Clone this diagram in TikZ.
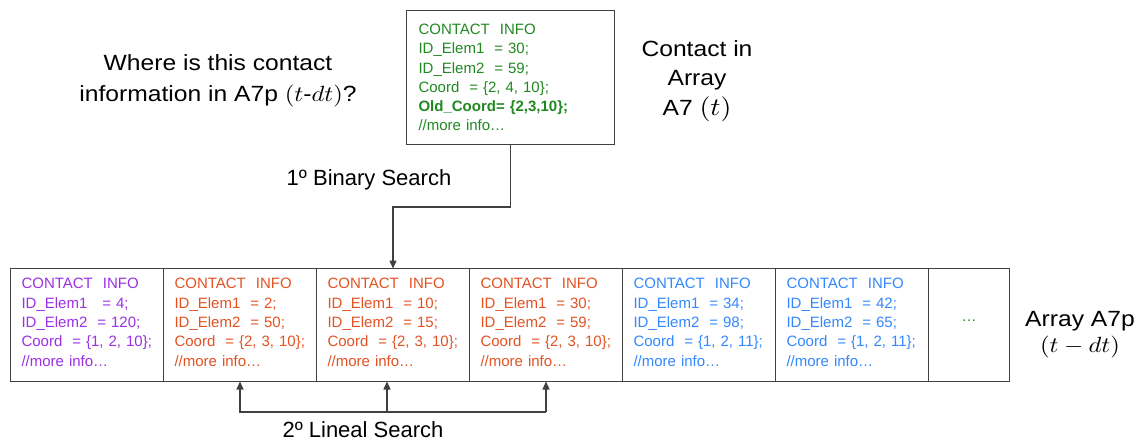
\documentclass[tikz,border=0pt]{standalone}
\usepackage{fontspec}
\setmainfont{Liberation Sans}
\usepackage{amsmath}
\usepackage{graphicx}
\usetikzlibrary{arrows.meta,positioning,calc}

% let the Computer Modern math fonts scale to any size
\DeclareFontShape{OML}{cmm}{m}{it}{<->cmmi10}{}
\DeclareFontShape{OT1}{cmr}{m}{n}{<->cmr10}{}
\DeclareFontShape{OMS}{cmsy}{m}{n}{<->cmsy10}{}

\definecolor{inkgray}{RGB}{64,64,64}
\definecolor{infopurple}{RGB}{155,48,230}
\definecolor{infoorange}{RGB}{228,82,34}
\definecolor{infoblue}{RGB}{51,136,255}
\definecolor{infogreen}{RGB}{34,136,34}

\newcommand{\cellfont}{\fontsize{15}{19.3}\selectfont}
\newcommand{\wide}[1]{\scalebox{1.12}[1]{#1}}
\newcommand{\lastdepth}{\rule[-5.4pt]{0pt}{0pt}}
\newcommand{\bigmath}[1]{{\fontsize{25}{25}\selectfont$#1$}}

\begin{document}
\begin{tikzpicture}[x=1pt,y=-1pt,
  ink/.style={draw=inkgray, line width=1.5pt},
  cellbox/.style={ink, rectangle, outer sep=0pt, inner xsep=11pt, inner ysep=0pt,
    minimum height=113pt, minimum width=153pt, text width=131pt,
    align=left, font=\cellfont},
  endbox/.style={cellbox, minimum width=81pt, text width=59pt, align=center},
  infobox/.style={ink, rectangle, outer sep=0pt, inner xsep=12pt, inner ysep=0pt,
    minimum width=208pt, minimum height=134pt, text width=184pt,
    align=left, font=\cellfont, text=infogreen},
  biglabel/.style={inner sep=0pt, text=black},
  arrowline/.style={draw=inkgray, line width=1.3pt, -{Triangle[length=8pt,width=7pt]}}
]
\fill[white] (0,0) rectangle (1141,442);
\useasboundingbox (0,0) rectangle (1141,442);

% contact being searched for
\node[infobox] (top) at (510.5,77.5) {%
  CONTACT\ \ INFO\\
  ID\_Elem1\ \ = 30;\\
  ID\_Elem2\ \ = 59;\\
  Coord\ \ = \{2, 4, 10\};\\
  \textbf{Old\_Coord= \{2,3,10\};}\\
  //more info…};

% array of contacts at the previous step
\node[cellbox, text=infopurple] (c1) at (87,325) {%
  CONTACT\ \ INFO\\
  ID\_Elem1\ \ \ = 4;\\
  ID\_Elem2 \ = 120;\\
  Coord \ = \{1, 2, 10\};\\
  //more info…\lastdepth};
\node[cellbox, text=infoorange] (c2) at (240,325) {%
  CONTACT\ \ INFO\\
  ID\_Elem1 \ = 2;\\
  ID\_Elem2 \ = 50;\\
  Coord \ = \{2, 3, 10\};\\
  //more info…\lastdepth};
\node[cellbox, text=infoorange] (c3) at (393,325) {%
  CONTACT\ \ INFO\\
  ID\_Elem1 \ = 10;\\
  ID\_Elem2 \ = 15;\\
  Coord \ = \{2, 3, 10\};\\
  //more info…\lastdepth};
\node[cellbox, text=infoorange] (c4) at (546,325) {%
  CONTACT\ \ INFO\\
  ID\_Elem1 \ = 30;\\
  ID\_Elem2 \ = 59;\\
  Coord \ = \{2, 3, 10\};\\
  //more info…\lastdepth};
\node[cellbox, text=infoblue] (c5) at (699,325) {%
  CONTACT\ \ INFO\\
  ID\_Elem1 \ = 34;\\
  ID\_Elem2 \ = 98;\\
  Coord \ = \{1, 2, 11\};\\
  //more info…\lastdepth};
\node[cellbox, text=infoblue] (c6) at (852,325) {%
  CONTACT\ \ INFO\\
  ID\_Elem1 \ = 42;\\
  ID\_Elem2 \ = 65;\\
  Coord \ = \{1, 2, 11\};\\
  //more info…\lastdepth};
\node[endbox, text=infogreen] (c7) at (969,325) {…\rule[-9pt]{0pt}{0pt}};

% labels
\node[biglabel, align=center, anchor=north, font={\fontsize{22}{31}\selectfont}]
  (ask) at (218,54) {\wide{Where is this contact}\\
  \wide{information in A7p $(t\text{-}dt)$?}};
\node[biglabel, align=center, anchor=north, font={\fontsize{22}{29.5}\selectfont}]
  (cur) at (697,40) {\wide{Contact in}\\ \wide{Array}\\ \wide{A7 \bigmath{(t)}}};
\node[biglabel, align=center, anchor=north, font={\fontsize{22}{26}\selectfont}]
  (prev) at (1080,311) {\wide{Array A7p}\\ \wide{$(t-dt)$}};
\node[biglabel, anchor=base, font={\fontsize{22}{26}\selectfont}]
  (bin) at (369,185) {1º Binary Search};
\node[biglabel, anchor=base, font={\fontsize{22}{26}\selectfont}]
  (lin) at (363,437) {2º Lineal Search};

% first step: binary search into the array
\draw[arrowline] (top.south) -- ++(0,62.5) -| (c3.north);

% second step: linear scan over the neighbouring cells
\coordinate (lsR) at ($(c4.south)+(0,30.5)$);
\coordinate (lsM) at ($(c3.south)+(-6,30.5)$);
\coordinate (lsMtip) at ($(c3.south)+(-6,0)$);
\draw[arrowline] (lsR) -| (c2.south);
\draw[arrowline] (lsR) -- (c4.south);
\draw[arrowline] (lsM) -- (lsMtip);
\end{tikzpicture}
\end{document}
